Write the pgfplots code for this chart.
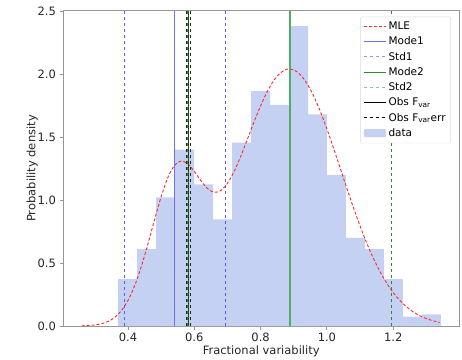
\documentclass[border=0pt]{standalone}
\usepackage{fontspec}
\setmainfont{DejaVu Sans}
\usepackage{pgfplots}
\pgfplotsset{compat=1.18}
\pgfplotsset{datalegend/.style={legend image code/.code={\fill[##1] (0pt,-4pt) rectangle (22pt,4pt);}}}
\definecolor{cHist}{HTML}{C5D1F2}
\definecolor{cMLE}{HTML}{FF2828}
\definecolor{cModeA}{HTML}{7070FF}
\definecolor{cStdA}{HTML}{5A5AFF}
\definecolor{cStdAl}{HTML}{9696FF}
\definecolor{cModeB}{HTML}{4CB060}
\definecolor{cStdB}{HTML}{288C28}
\definecolor{cStdBl}{HTML}{8CC88C}
\definecolor{cSpine}{HTML}{969696}
\begin{document}
\begin{tikzpicture}
\begin{axis}[
  scale only axis,
  width=396.5pt, height=315pt,
  xmin=0.204, xmax=1.400,
  ymin=0, ymax=2.5,
  xtick={0.4,0.6,0.8,1.0,1.2},
  ytick={0,0.5,1.0,1.5,2.0,2.5},
  /pgf/number format/.cd, fixed, fixed zerofill, precision=1, assume math mode=true,
  /pgfplots/.cd,
  tick align=outside,
  tick pos=left,
  major tick length=3.5pt,
  tick style={cSpine, line width=0.8pt},
  axis line style={draw=cSpine, line width=1pt},
  ticklabel style={font=\fontsize{11.5}{13}\selectfont, text=black!85},
  xlabel={Fractional variability},
  ylabel={Probability density},
  label style={font=\fontsize{11.5}{13}\selectfont, text=black!85},
  xlabel style={yshift=3pt},
  ylabel style={yshift=-7pt},
  legend style={at={(rel axis cs:0.978,0.982)}, anchor=north east,
    font=\fontsize{10.5}{12}\selectfont, draw=black!15, rounded corners=1pt,
    row sep=1.8pt, inner sep=3pt},
  legend cell align=left,
  legend image code/.code={\draw[#1] (0pt,0pt) -- (22pt,0pt);},
]
% histogram
\addplot[ybar interval, fill=cHist, draw=none, forget plot] coordinates {
(0.370,0.373) (0.4273,0.61) (0.4846,1.02) (0.5419,1.40) (0.5992,1.125)
(0.6565,0.847) (0.7138,1.455) (0.7711,1.865) (0.8284,1.754) (0.8857,2.38)
(0.9430,1.68) (1.0003,1.20) (1.0576,0.70) (1.1149,0.61) (1.1722,0.373)
(1.2295,0.074) (1.2868,0.093) (1.3441,0.093)
};
% MLE
\addplot[cMLE, densely dashed, line width=0.9pt, smooth, forget plot] coordinates {
(0.26,0.0018) (0.28,0.004) (0.30,0.0086) (0.32,0.018) (0.34,0.036) (0.36,0.068)
(0.38,0.1215) (0.40,0.203) (0.42,0.319) (0.44,0.470) (0.46,0.6495) (0.48,0.8425)
(0.50,1.026) (0.52,1.177) (0.54,1.274) (0.56,1.309) (0.58,1.288) (0.60,1.227)
(0.62,1.153) (0.64,1.0915) (0.66,1.061) (0.68,1.0755) (0.70,1.132) (0.72,1.226)
(0.74,1.346) (0.76,1.481) (0.78,1.618) (0.80,1.747) (0.82,1.860) (0.84,1.949)
(0.86,2.009) (0.88,2.038) (0.90,2.033) (0.92,1.994) (0.94,1.924) (0.96,1.826)
(0.98,1.704) (1.00,1.564) (1.02,1.412) (1.04,1.2534) (1.06,1.0945) (1.08,0.940)
(1.10,0.7937) (1.12,0.659) (1.14,0.5385) (1.16,0.4327) (1.18,0.342) (1.20,0.2656)
(1.22,0.203) (1.24,0.1526) (1.26,0.1128) (1.28,0.082) (1.30,0.0586) (1.32,0.0412)
(1.34,0.0285)
};
% Mode1
\addplot[cModeA, line width=1.6pt, forget plot] coordinates {(0.540,0) (0.540,2.5)};
% Std1
\addplot[cStdA, dashed, line width=0.8pt, forget plot] coordinates {(0.388,0) (0.388,2.5)};
\addplot[cStdA, dashed, line width=0.8pt, forget plot] coordinates {(0.695,0) (0.695,2.5)};
% Mode2
\addplot[cModeB, line width=1.6pt, forget plot] coordinates {(0.888,0) (0.888,2.5)};
% Std2
\addplot[cStdB, dashed, line width=0.8pt, forget plot] coordinates {(1.196,0) (1.196,2.5)};
\addplot[cStdB, dashed, line width=1.2pt, forget plot] coordinates {(0.579,0) (0.579,2.5)};
% Obs Fvar and errors
\addplot[black!85, dashed, line width=1pt, forget plot] coordinates {(0.576,0) (0.576,2.5)};
\addplot[black!85, dashed, line width=1pt, forget plot] coordinates {(0.590,0) (0.590,2.5)};
\addplot[black!85, line width=1pt, forget plot] coordinates {(0.583,0) (0.583,2.5)};
\addplot[cStdB!70!black, densely dotted, line width=1.6pt, forget plot] coordinates {(0.583,0) (0.583,2.5)};
% legend
\addlegendimage{cMLE, densely dashed, line width=1.2pt}
\addlegendentry{MLE}
\addlegendimage{cModeA, line width=1.2pt}
\addlegendentry{Mode1}
\addlegendimage{cStdAl, dashed, line width=1.2pt}
\addlegendentry{Std1}
\addlegendimage{cStdB, line width=1.2pt}
\addlegendentry{Mode2}
\addlegendimage{cStdBl, dashed, line width=1.2pt}
\addlegendentry{Std2}
\addlegendimage{black, line width=1.2pt}
\addlegendentry{Obs F\textsubscript{var}}
\addlegendimage{black, dashed, line width=1pt}
\addlegendentry{Obs F\textsubscript{var}err}
\addlegendimage{fill=cHist, draw=none, datalegend}
\addlegendentry{data}
\end{axis}
\pgfresetboundingbox
\path (-63pt,-33pt) rectangle (399pt,326pt);
\end{tikzpicture}
\end{document}
